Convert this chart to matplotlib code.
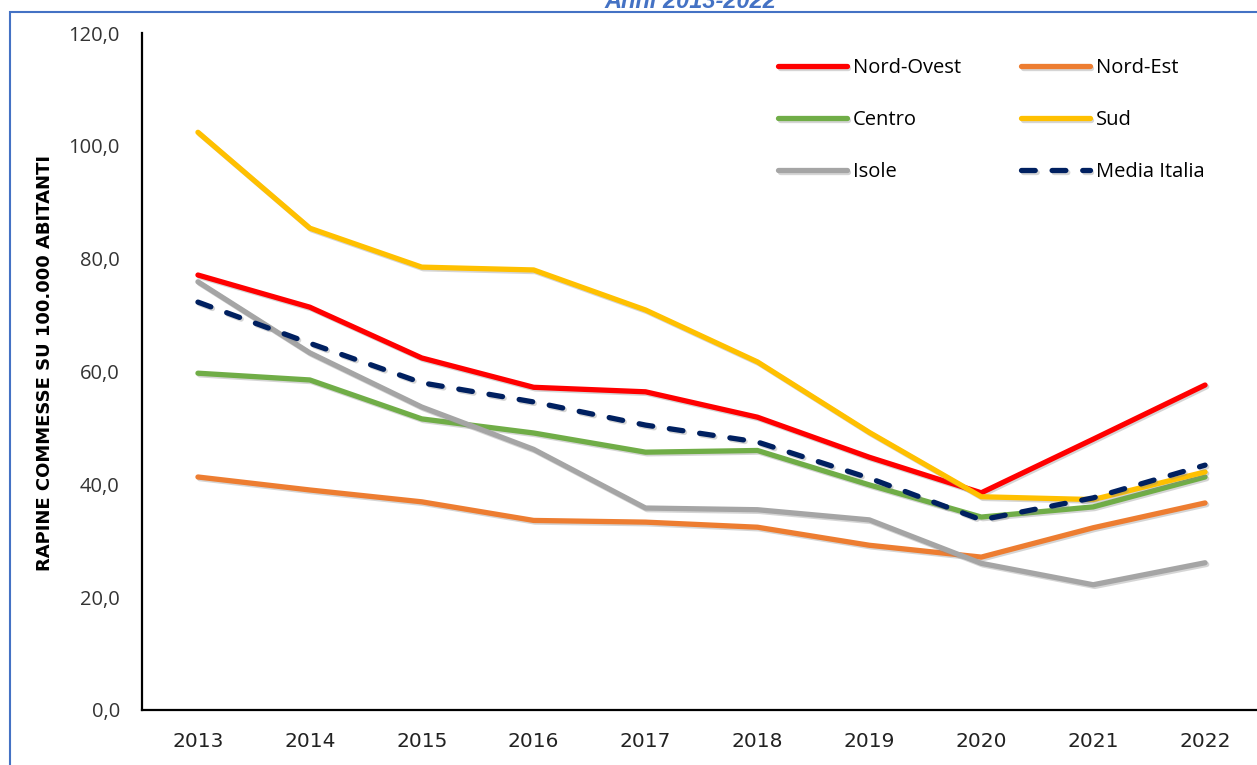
import matplotlib
matplotlib.use("Agg")
import matplotlib.pyplot as plt
import matplotlib.patheffects as pe
from matplotlib.patches import Rectangle

years = ["2013", "2014", "2015", "2016", "2017", "2018", "2019", "2020", "2021", "2022"]
nord_ovest = [77.1, 71.4, 62.4, 57.2, 56.4, 51.9, 44.8, 38.5, 48.0, 57.6]
nord_est = [41.3, 39.0, 36.9, 33.6, 33.3, 32.4, 29.2, 27.1, 32.3, 36.7]
centro = [59.7, 58.5, 51.6, 49.1, 45.7, 46.0, 39.9, 34.2, 36.0, 41.3]
sud = [102.4, 85.4, 78.5, 78.0, 70.9, 61.7, 49.2, 37.8, 37.3, 42.2]
isole = [75.9, 63.3, 53.7, 46.2, 35.8, 35.5, 33.7, 26.0, 22.2, 26.1]
media_italia = [72.3, 65.0, 58.0, 54.6, 50.5, 47.5, 41.1, 33.7, 37.6, 43.4]

series_names = ["Nord-Ovest", "Nord-Est", "Centro", "Sud", "Isole", "Media Italia"]
series_colors = ["#FF0000", "#ED7D31", "#70AD47", "#FFC000", "#A5A5A5", "#002060"]
y_ticks = [0, 20, 40, 60, 80, 100, 120]
y_tick_labels = ["0,0", "20,0", "40,0", "60,0", "80,0", "100,0", "120,0"]

title = "Anni 2013-2022"
ylabel = "RAPINE COMMESSE SU 100.000 ABITANTI"

W, H = 1257, 765
fig = plt.figure(figsize=(W / 100, H / 100), dpi=100)
fig.patch.set_facecolor("white")

# blue frame
fig.patches.append(Rectangle((10 / W, -0.2), 1.2, 1 - 12 / H + 0.2, transform=fig.transFigure,
                             fill=False, edgecolor="#4472C4", linewidth=1.5, zorder=0))
fig.text(690 / W, 1 - 1 / H, title, ha="center", va="center", color="#4472C4",
         fontsize=17, fontweight="bold", fontstyle="italic", family="Liberation Sans")

ax = fig.add_axes([142 / W, 1 - 710 / H, 1119 / W, 677 / H])
x = list(range(len(years)))
all_series = [nord_ovest, nord_est, centro, sud, isole, media_italia]
shadow = [pe.SimpleLineShadow(offset=(1.2, -1.2), shadow_color="#888888", alpha=0.35), pe.Normal()]
handles = []
for name, vals, col in zip(series_names, all_series, series_colors):
    if name == "Media Italia":
        h, = ax.plot(x, vals, color=col, lw=3.8, label=name, dashes=(2.6, 3.2),
                     dash_capstyle="round", solid_joinstyle="round", path_effects=shadow)
    else:
        h, = ax.plot(x, vals, color=col, lw=3.8, label=name, solid_capstyle="round",
                     solid_joinstyle="round", path_effects=shadow)
    handles.append(h)

ax.set_xlim(-0.5, 9.5)
ax.set_ylim(0, 120)
ax.set_xticks(x)
ax.set_xticklabels(years, family="DejaVu Sans", fontsize=14.5, color="#222222")
ax.set_yticks(y_ticks)
ax.set_yticklabels(y_tick_labels, family="Open Sans", fontsize=14.5, color="#333333")
ax.tick_params(axis="x", length=0, pad=16)
ax.tick_params(axis="y", length=0, pad=16)
for s in ["top", "right"]:
    ax.spines[s].set_visible(False)
for s in ["left", "bottom"]:
    ax.spines[s].set_linewidth(1.6)
    ax.spines[s].set_color("black")

fig.text(45 / W, 1 - 363 / H, ylabel, rotation=90, ha="center", va="center",
         fontsize=13, fontweight="bold", family="DejaVu Sans", color="black")

order = [0, 2, 4, 1, 3, 5]
leg = ax.legend([handles[i] for i in order], [series_names[i] for i in order],
                ncol=2, loc="upper left", bbox_to_anchor=(0.5594, 0.978), frameon=False,
                prop={"family": "Open Sans", "size": 14.5}, handlelength=3.4,
                handletextpad=0.3, columnspacing=3.0, labelspacing=1.6, borderpad=0)

fig.savefig("out.png", dpi=100)
